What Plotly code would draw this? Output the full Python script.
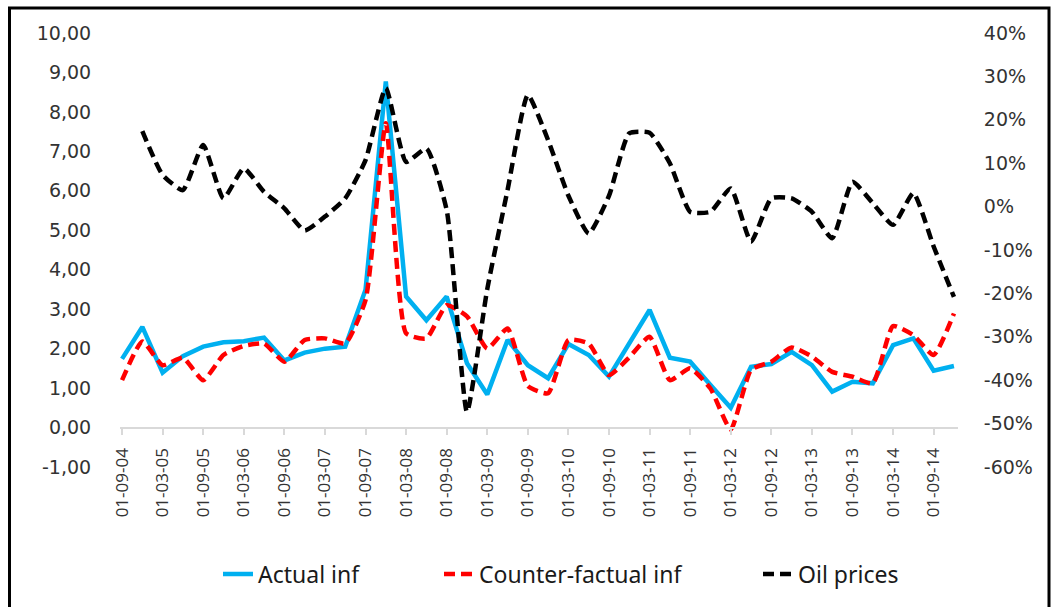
import plotly.graph_objects as go

quarters = ["01-09-04", "01-12-04", "01-03-05", "01-06-05", "01-09-05", "01-12-05",
            "01-03-06", "01-06-06", "01-09-06", "01-12-06", "01-03-07", "01-06-07",
            "01-09-07", "01-12-07", "01-03-08", "01-06-08", "01-09-08", "01-12-08",
            "01-03-09", "01-06-09", "01-09-09", "01-12-09", "01-03-10", "01-06-10",
            "01-09-10", "01-12-10", "01-03-11", "01-06-11", "01-09-11", "01-12-11",
            "01-03-12", "01-06-12", "01-09-12", "01-12-12", "01-03-13", "01-06-13",
            "01-09-13", "01-12-13", "01-03-14", "01-06-14", "01-09-14", "01-12-14"]

actual_inf = [1.74, 2.55, 1.39, 1.81, 2.05, 2.16, 2.19, 2.28, 1.70, 1.90, 2.00, 2.05,
              3.49, 8.77, 3.32, 2.72, 3.32, 1.63, 0.84, 2.22, 1.58, 1.25, 2.12, 1.84,
              1.29, 2.15, 2.98, 1.77, 1.67, 1.08, 0.50, 1.54, 1.61, 1.92, 1.58, 0.91,
              1.16, 1.12, 2.09, 2.26, 1.44, 1.56]

counterfactual_inf = [1.20, 2.18, 1.58, 1.77, 1.20, 1.84, 2.07, 2.13, 1.67, 2.22, 2.26, 2.13,
                      3.23, 7.71, 2.39, 2.26, 3.10, 2.82, 2.00, 2.51, 1.05, 0.87, 2.22, 2.13,
                      1.33, 1.78, 2.30, 1.20, 1.50, 0.99, -0.05, 1.46, 1.67, 2.03, 1.80, 1.41,
                      1.29, 1.12, 2.57, 2.34, 1.84, 2.89]

oil_prices_pct = [None, 17.4, 7.3, 3.8, 14.2, 1.9, 8.8, 3.4, -0.4, -5.5, -2.3, 1.9,
                  10.7, 27.3, 10.3, 13.4, -0.8, -47.3, -19.0, 3.8, 25.7, 15.3, 2.5, -6.2,
                  2.5, 16.9, 17.0, 10.0, -1.2, -1.2, 4.2, -8.1, 1.9, 1.9, -1.2, -7.3,
                  5.7, 0.8, -4.2, 3.1, -9.2, -20.8]

left_tick_vals = [-1, 0, 1, 2, 3, 4, 5, 6, 7, 8, 9, 10]
left_tick_text = ["-1,00", "0,00", "1,00", "2,00", "3,00", "4,00", "5,00",
                  "6,00", "7,00", "8,00", "9,00", "10,00"]
right_tick_vals = [-60, -50, -40, -30, -20, -10, 0, 10, 20, 30, 40]
right_tick_text = ["-60%", "-50%", "-40%", "-30%", "-20%", "-10%", "0%",
                   "10%", "20%", "30%", "40%"]
x_tick_labels = quarters[::2]

series_names = ["Actual inf", "Counter-factual inf", "Oil prices"]

# layout geometry (pixels)
W, H = 1057, 607
ML, MR, MT, MB = 120, 99, 33, 140
PW, PH = W - ML - MR, H - MT - MB


def px_x(p):
    return (p - ML) / PW


def px_y(p):
    return (H - MB - p) / PH


fig = go.Figure()

fig.add_trace(go.Scatter(
    x=quarters, y=actual_inf, name=series_names[0], mode="lines",
    line=dict(color="#00B0F0", width=4.5), legend="legend"))

fig.add_trace(go.Scatter(
    x=quarters, y=counterfactual_inf, name=series_names[1], mode="lines",
    line=dict(color="#FF0000", width=4.5, dash="11px,6px", shape="spline", smoothing=0.5),
    legend="legend2"))

fig.add_trace(go.Scatter(
    x=quarters, y=oil_prices_pct, name=series_names[2], mode="lines", yaxis="y2",
    line=dict(color="#000000", width=4.5, dash="11px,6px", shape="spline", smoothing=0.5),
    legend="legend3"))

tick_font = dict(family="DejaVu Sans", size=19, color="#333333")
legend_font = dict(family="Noto Sans", size=23, color="#1a1a1a")

fig.update_layout(
    width=W, height=H,
    margin=dict(l=ML, r=MR, t=MT, b=MB, pad=0),
    paper_bgcolor="white", plot_bgcolor="white",
    showlegend=True,
    xaxis=dict(
        type="category", range=[-0.1, 41.2],
        anchor="free", position=1 / 11,
        showline=True, linecolor="#D9D9D9", linewidth=1.5,
        ticks="outside", ticklen=7, tickcolor="#D9D9D9", tickwidth=1.5,
        tickmode="array", tickvals=x_tick_labels, ticktext=x_tick_labels,
        tickangle=-90, tickfont=dict(family="Open Sans", size=17, color="#333333"),
        showgrid=False, zeroline=False, ticklabelstandoff=6,
    ),
    yaxis=dict(
        range=[-1, 10], tickmode="array", tickvals=left_tick_vals, ticktext=left_tick_text,
        showgrid=False, zeroline=False, showline=False,
        ticks="outside", ticklen=24, tickcolor="rgba(0,0,0,0)",
        tickfont=tick_font,
    ),
    yaxis2=dict(
        range=[-60, 40], overlaying="y", side="right",
        tickmode="array", tickvals=right_tick_vals, ticktext=right_tick_text,
        showgrid=False, zeroline=False, showline=False,
        ticks="outside", ticklen=21, tickcolor="rgba(0,0,0,0)",
        tickfont=tick_font,
    ),
    legend=dict(x=px_x(218), y=px_y(574), xanchor="left", yanchor="middle",
                orientation="h", font=legend_font, bgcolor="rgba(0,0,0,0)"),
    legend2=dict(x=px_x(439), y=px_y(574), xanchor="left", yanchor="middle",
                 orientation="h", font=legend_font, bgcolor="rgba(0,0,0,0)"),
    legend3=dict(x=px_x(758), y=px_y(574), xanchor="left", yanchor="middle",
                 orientation="h", font=legend_font, bgcolor="rgba(0,0,0,0)"),
    shapes=[dict(type="rect", xref="paper", yref="paper",
                 x0=px_x(9.5), x1=px_x(1049), y0=px_y(660), y1=px_y(8),
                 line=dict(color="black", width=3), fillcolor="rgba(0,0,0,0)",
                 layer="below")],
)

fig.write_html("out.html", config={"displayModeBar": False},
               post_script="document.body.style.margin='0px';")
